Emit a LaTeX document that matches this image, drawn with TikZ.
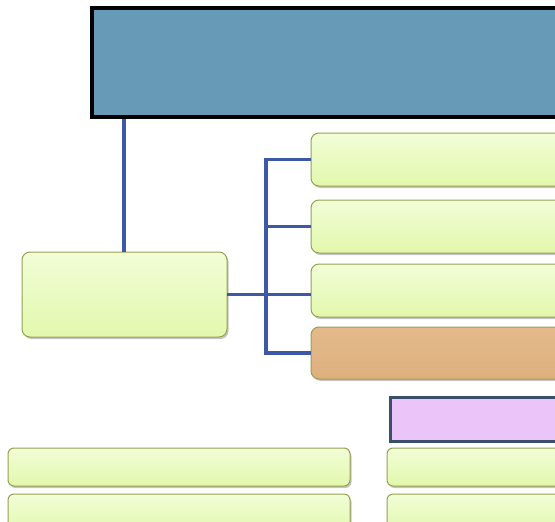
\documentclass[tikz,border=0pt]{standalone}
\usetikzlibrary{shadows}
\definecolor{topblue}{RGB}{103,154,182}
\definecolor{connblue}{RGB}{62,88,168}
\definecolor{gtop}{RGB}{242,253,215}
\definecolor{gbot}{RGB}{226,248,172}
\definecolor{gedge}{RGB}{150,160,80}
\definecolor{orfill}{RGB}{222,176,126}
\definecolor{orfilltop}{RGB}{228,186,140}
\definecolor{purfill}{RGB}{235,196,250}
\definecolor{puredge}{RGB}{58,80,104}
\tikzset{
  greenbox/.style={rectangle, rounded corners=8pt, draw=gedge, line width=1pt,
    top color=gtop, bottom color=gbot, anchor=north west, inner sep=0pt, outer sep=0pt,
    drop shadow={shadow xshift=1.5pt, shadow yshift=-2pt, opacity=0.45}},
  orangebox/.style={greenbox, top color=orfilltop, bottom color=orfill},
  conn/.style={draw=connblue, line width=3.5pt},
}
\begin{document}
\begin{tikzpicture}[x=1pt, y=-1pt]
\clip (0,0) rectangle (555,522);
\fill[white] (0,0) rectangle (555,522);
% top box
\node[rectangle, draw=black, line width=3.5pt, fill=topblue, anchor=north west, inner sep=0pt,
  minimum width=500pt, minimum height=109pt] (top) at (90,6) {};
% left box
\node[greenbox, minimum width=205pt, minimum height=85pt] (lb) at (22,252) {};
% right boxes
\node[greenbox, minimum width=280pt, minimum height=53pt] (r1) at (311,133) {};
\node[greenbox, minimum width=280pt, minimum height=53pt] (r2) at (311,200) {};
\node[greenbox, minimum width=280pt, minimum height=53pt] (r3) at (311,264) {};
\node[orangebox, minimum width=280pt, minimum height=52pt] (r4) at (311,327) {};
% purple box
\node[rectangle, draw=puredge, line width=3pt, fill=purfill, anchor=north west, inner sep=0pt,
  minimum width=200pt, minimum height=44pt] (pur) at (389,396) {};
% bottom boxes
\node[greenbox, rounded corners=6pt, minimum width=342pt, minimum height=38pt] (bl1) at (8,448) {};
\node[greenbox, rounded corners=6pt, minimum width=342pt, minimum height=40pt] (bl2) at (8,494) {};
\node[greenbox, rounded corners=6pt, minimum width=200pt, minimum height=38pt] (br1) at (387,448) {};
\node[greenbox, rounded corners=6pt, minimum width=200pt, minimum height=40pt] (br2) at (387,494) {};
% connectors
\coordinate (cx) at (124,0);
\coordinate (jx) at (266,0);
\draw[conn] (top.south -| cx) -- (lb.north -| cx);
\draw[conn] (lb.east) -- (lb.east -| r3.west);
\draw[conn] (r1.west) -- (r1.west -| jx) -- (r4.west -| jx) -- (r4.west);
\draw[conn] (r2.west -| jx) -- (r2.west);
\end{tikzpicture}
\end{document}
